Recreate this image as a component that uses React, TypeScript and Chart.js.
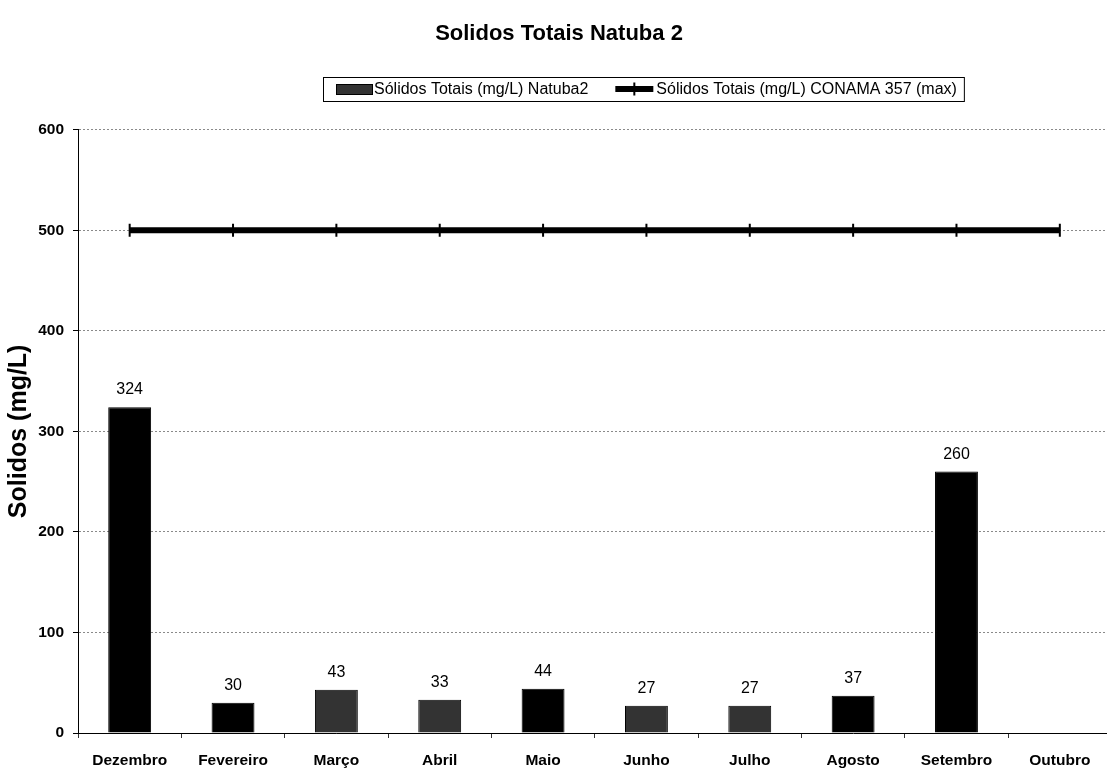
import React, { useEffect, useRef } from 'react';
import { Chart, registerables } from 'chart.js';

Chart.register(...registerables);

const FONT = "'Liberation Sans', Arial, sans-serif";

const chartTitle = 'Solidos Totais Natuba 2';
const yAxisTitle = 'Solidos (mg/L)';
const categories = ['Dezembro', 'Fevereiro', 'Março', 'Abril', 'Maio', 'Junho', 'Julho', 'Agosto', 'Setembro', 'Outubro'];
const natuba2Values: (number | null)[] = [324, 30, 43, 33, 44, 27, 27, 37, 260, null];
const conamaMaxValues = [500, 500, 500, 500, 500, 500, 500, 500, 500, 500];
const barColors = ['#000000', '#000000', '#333333', '#333333', '#000000', '#333333', '#333333', '#000000', '#000000', '#000000'];
const seriesNames = ['Sólidos Totais (mg/L) Natuba2', 'Sólidos Totais (mg/L) CONAMA 357 (max)'];
const yMin = 0;
const yMax = 600;
const yStep = 100;

const valueLabelsPlugin = {
  id: 'valueLabels',
  afterDatasetsDraw(chart: any) {
    const ctx = chart.ctx;
    const meta = chart.getDatasetMeta(0);
    ctx.save();
    ctx.font = `16px ${FONT}`;
    ctx.fillStyle = '#000';
    ctx.textAlign = 'center';
    ctx.textBaseline = 'alphabetic';
    meta.data.forEach((el: any, i: number) => {
      const v = natuba2Values[i];
      if (v === null || v === undefined) return;
      ctx.fillText(String(v), el.x, el.y - 13);
    });
    ctx.restore();
  },
};

const boxLegendPlugin = {
  id: 'boxLegend',
  afterDraw(chart: any) {
    const ctx = chart.ctx;
    ctx.save();
    ctx.font = `16px ${FONT}`;
    const left = 323;
    const top = 77;
    const height = 24;
    const cy = top + height / 2;
    const swX = left + 13;
    const t1x = swX + 38;
    const w1 = ctx.measureText(seriesNames[0]).width;
    const lx = t1x + w1 + 27;
    const t2x = lx + 41;
    const w2 = ctx.measureText(seriesNames[1]).width;
    const right = t2x + w2 + 7;
    ctx.strokeStyle = '#000';
    ctx.lineWidth = 1;
    ctx.strokeRect(left + 0.5, top + 0.5, right - left, height);
    // swatch
    ctx.fillStyle = '#333333';
    ctx.fillRect(swX, cy - 5, 36, 10);
    ctx.strokeRect(swX + 0.5, cy - 5 + 0.5, 36, 10);
    // line marker
    ctx.beginPath();
    ctx.lineWidth = 6;
    ctx.moveTo(lx, cy);
    ctx.lineTo(lx + 38, cy);
    ctx.stroke();
    ctx.beginPath();
    ctx.lineWidth = 2;
    ctx.moveTo(lx + 19, cy - 6.5);
    ctx.lineTo(lx + 19, cy + 6.5);
    ctx.stroke();
    // texts
    ctx.fillStyle = '#000';
    ctx.textBaseline = 'middle';
    ctx.textAlign = 'left';
    ctx.fillText(seriesNames[0], t1x, cy + 1);
    ctx.fillText(seriesNames[1], t2x, cy + 1);
    ctx.restore();
  },
};

export default function App() {
  const canvasRef = useRef<HTMLCanvasElement | null>(null);

  useEffect(() => {
    const canvas = canvasRef.current;
    if (!canvas) return;
    const chart = new Chart(canvas, {
      type: 'bar',
      data: {
        labels: categories,
        datasets: [
          {
            type: 'bar',
            label: seriesNames[0],
            data: natuba2Values as any,
            backgroundColor: barColors,
            borderColor: '#000000',
            borderWidth: 1,
            categoryPercentage: 1,
            barPercentage: 0.415,
            order: 2,
          },
          {
            type: 'line',
            label: seriesNames[1],
            data: conamaMaxValues,
            borderColor: '#000000',
            backgroundColor: '#000000',
            borderWidth: 6,
            pointStyle: 'line',
            rotation: 90,
            pointRadius: 6.5,
            pointBorderWidth: 2,
            pointBorderColor: '#000000',
            pointBackgroundColor: '#000000',
            fill: false,
            tension: 0,
            order: 1,
          } as any,
        ],
      },
      options: {
        responsive: false,
        animation: false,
        layout: { padding: { left: 0, right: 2, top: 0, bottom: 0 } },
        plugins: {
          legend: { display: false },
          tooltip: { enabled: false },
          title: {
            display: true,
            text: chartTitle,
            color: '#000',
            font: { family: FONT, size: 22, weight: 'bold' },
            padding: { top: 21, bottom: 82.3 },
          },
        },
        scales: {
          x: {
            offset: true,
            grid: {
              display: true,
              drawOnChartArea: false,
              drawTicks: true,
              tickLength: 5,
              offset: true,
              color: '#333',
              tickColor: '#333',
            },
            border: { display: true, color: '#000', width: 1 },
            ticks: {
              color: '#000',
              font: { family: FONT, size: 15.5, weight: 'bold' },
              padding: 13,
              maxRotation: 0,
              autoSkip: false,
            },
            afterFit(scale: any) {
              scale.height = 36;
            },
          },
          y: {
            min: yMin,
            max: yMax,
            grid: {
              color: '#8a8a8a',
              lineWidth: 1,
              drawTicks: true,
              tickLength: 5,
              tickColor: '#000',
              tickBorderDash: [],
            } as any,
            border: { display: true, color: '#000', width: 1, dash: [2, 2] },
            ticks: {
              stepSize: yStep,
              color: '#000',
              font: { family: FONT, size: 15.5, weight: 'bold' },
              padding: 9,
            },
            title: {
              display: true,
              text: yAxisTitle,
              color: '#000',
              font: { family: FONT, size: 25, weight: 'bold' },
              padding: { top: 4, bottom: 0 },
            },
            afterFit(scale: any) {
              scale.width = 78;
            },
          },
        },
      },
      plugins: [valueLabelsPlugin, boxLegendPlugin],
    });
    return () => chart.destroy();
  }, []);

  return (
    <div style={{ position: 'absolute', left: 0, top: 0, width: 1107, height: 769, overflow: 'hidden', background: '#fff' }}>
      <canvas ref={canvasRef} width={1120} height={769} style={{ display: 'block', width: 1120, height: 769 }} />
    </div>
  );
}
